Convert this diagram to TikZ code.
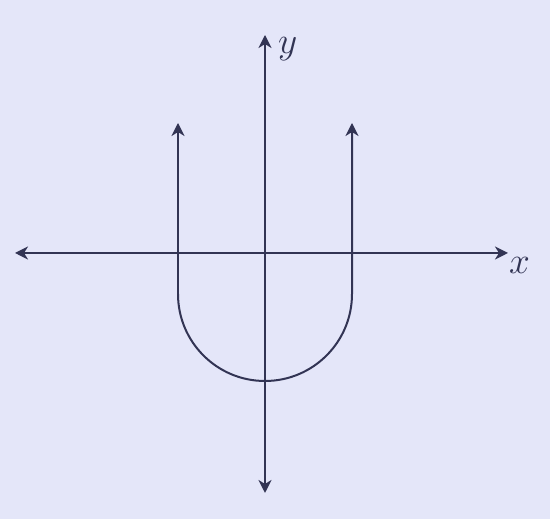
\documentclass[tikz,border=0pt]{standalone}
\usepackage{amsmath,amssymb}
\usetikzlibrary{calc,positioning,arrows.meta}

\definecolor{paper}{RGB}{228,230,249}
\definecolor{ink}{RGB}{50,52,84}
\newcommand{\axislabel}[1]{\scalebox{1.5}{$#1$}}

\begin{document}
\begin{tikzpicture}[
    x=1pt, y=1pt,
    axis/.style={line width=2pt, ink, {Stealth[length=13pt,width=13pt,inset=4pt]}-{Stealth[length=13pt,width=13pt,inset=4pt]}},
    curve/.style={line width=2pt, ink, -{Stealth[length=13pt,width=13pt,inset=4pt]}},
    label/.style={inner sep=1pt, ink, font=\Huge}
]
    % Background paper
    \fill[paper] (0,0) rectangle (550,519);
    \useasboundingbox (0,0) rectangle (550,519);

    % Axis end points
    \coordinate (xl) at (15,266);
    \coordinate (xr) at (508,266);
    \coordinate (yt) at (265,484);
    \coordinate (yb) at (265,26);

    % Axes
    \draw[axis] (xl) -- (xr);
    \draw[axis] (yb) -- (yt);

    \node[label, right=0pt of xr, yshift=-12pt] (xlab) {\axislabel{x}};
    \node[label, right=12pt of yt, yshift=-14pt] (ylab) {\axislabel{y}};

    % U-shaped curve: two rays joined by a half circle
    \coordinate (lt) at (178,396);
    \coordinate (rt) at (352,396);
    \coordinate (lb) at (178,225);
    \coordinate (rb) at (352,225);

    \draw[curve] (lb) arc[start angle=180, end angle=360, radius=87] -- (rt);
    \draw[curve] (lb) -- (lt);
\end{tikzpicture}
\end{document}
